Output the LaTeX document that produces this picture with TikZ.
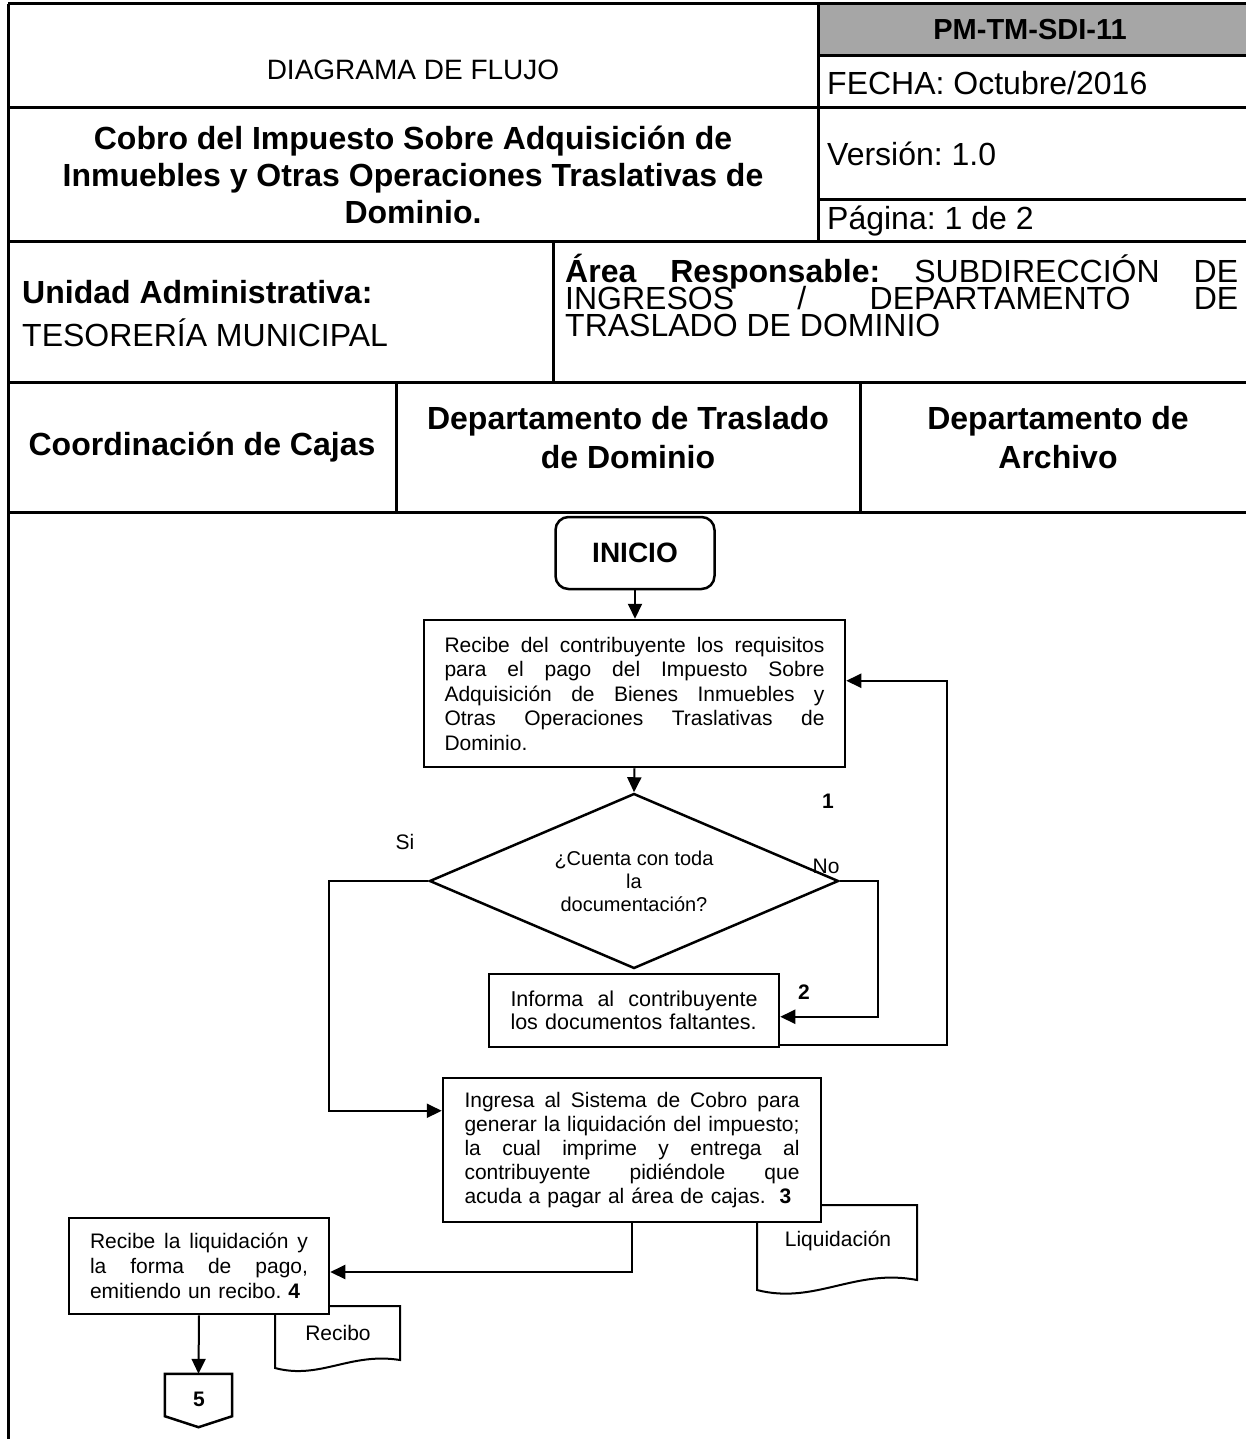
\documentclass[tikz,border=0pt]{standalone}
\usepackage{fontspec}
\setmainfont{Liberation Sans}
\usetikzlibrary{arrows.meta,shapes.geometric,calc}
\definecolor{hdrgray}{HTML}{A6A6A6}
\newcommand{\spl}[2]{\leavevmode\hbox to #1{\spaceskip=.25em plus 1fil\xspaceskip=.25em plus 1fil\relax #2}}
\frenchspacing
\begin{document}
\begin{tikzpicture}[x=1pt,y=-1pt,
  tline/.style={line width=3pt},
  hdr/.style={font=\fontsize{32}{37}\selectfont, inner sep=0},
  hdrb/.style={font=\fontsize{32}{37}\selectfont\bfseries, inner sep=0},
  box/.style={draw, line width=2.5pt, fill=white, inner sep=0, align=left},
  conn/.style={line width=2pt, -{Triangle[length=15pt,width=14pt]}},
  lbl/.style={font=\fontsize{21}{24}\selectfont, inner sep=0},
  lblb/.style={font=\fontsize{21}{24}\selectfont\bfseries, inner sep=0},
  docshape/.style={draw, line width=2pt, fill=white}
]
\clip (0,0) rectangle (1246,1439);
\useasboundingbox (0,0) rectangle (1246,1439);
% ---------- header table ----------
\fill[hdrgray] (818,4) rectangle (1260,56);
\draw[tline] (8,4) -- (1260,4);
\draw[tline] (8,4) -- (8,1450);
\draw[tline] (818,4) -- (818,242);
\draw[tline] (818,56) -- (1260,56);
\draw[tline] (8,108) -- (1260,108);
\draw[tline] (818,200) -- (1260,200);
\draw[tline] (8,242) -- (1260,242);
\draw[tline] (553,242) -- (553,382);
\draw[tline] (8,382) -- (1260,382);
\draw[tline] (396,382) -- (396,512);
\draw[tline] (860,382) -- (860,512);
\draw[tline] (8,512) -- (1260,512);

\node[inner sep=0, font=\fontsize{29}{34}\selectfont\bfseries] (code) at (1030,30) {PM-TM-SDI-11};
\node[hdr, anchor=west] (fecha) at (827,83) {FECHA: Octubre/2016};
\node[inner sep=0, font=\fontsize{28}{34}\selectfont] (diag) at (413,70) {DIAGRAMA DE FLUJO};
\node[hdrb, align=center] (title) at (413,175) {Cobro del Impuesto Sobre Adquisición de\\Inmuebles y Otras Operaciones Traslativas de\\Dominio.};
\node[hdr, anchor=west] (ver) at (827,154) {Versión: 1.0};
\node[hdr, anchor=west] (pag) at (827,221) {Página: 1 de 2};
\node[hdrb, anchor=west] (unidad) at (22,292) {Unidad Administrativa:};
\node[hdr, anchor=west] (teso) at (22,333) {TESORERÍA MUNICIPAL};
\node[hdr, anchor=base west] (area1) at (565,282) {\spl{673pt}{\textbf{Área Responsable:} SUBDIRECCIÓN DE}};
\node[hdr, anchor=base west] (area2) at (565,309) {\spl{673pt}{INGRESOS / DEPARTAMENTO DE}};
\node[hdr, anchor=base west] (area3) at (565,336) {TRASLADO DE DOMINIO};
\node[hdrb] (cajas) at (202,447) {Coordinación de Cajas};
\node[hdrb, align=center, font=\fontsize{32}{39}\selectfont\bfseries] (dtd) at (628,438) {Departamento de Traslado\\de Dominio};
\node[hdrb, align=center, font=\fontsize{32}{39}\selectfont\bfseries] (darch) at (1058,438) {Departamento de\\Archivo};

% ---------- documents (behind boxes) ----------
\draw[docshape] (757,1205) -- (917,1205) -- (917,1280)
  .. controls (855,1268) and (815,1305) .. (757,1290) -- cycle;
\node[lbl] (liq) at (838,1241) {Liquidación};
\draw[docshape] (275,1306) -- (400,1306) -- (400,1360)
  .. controls (350,1352) and (320,1380) .. (275,1368) -- cycle;
\node[lbl] (rec) at (338,1333) {Recibo};

% ---------- flow nodes ----------
\node[draw, line width=2.5pt, rounded corners=13pt, minimum width=159pt, minimum height=72pt,
  font=\fontsize{28}{30}\selectfont\bfseries] (inicio) at (635,553) {INICIO};

\node[box, minimum width=421pt, minimum height=147pt, text width=380pt,
  font=\fontsize{21}{24.5}\selectfont] (b1) at (634.5,693.5)
  {\spl{380pt}{Recibe del contribuyente los requisitos}\\
   \spl{380pt}{para el pago del Impuesto Sobre}\\
   \spl{380pt}{Adquisición de Bienes Inmuebles y}\\
   \spl{380pt}{Otras Operaciones Traslativas de}\\
   Dominio.};

\node[diamond, draw, line width=2.5pt, fill=white, aspect=2.34, inner sep=0,
  minimum width=409pt, minimum height=175pt, align=center,
  font=\fontsize{20}{23}\selectfont] (d) at (634,881)
  {¿Cuenta con toda\\la\\documentación?};

\node[box, minimum width=290pt, minimum height=73pt, text width=247pt,
  font=\fontsize{21.5}{23.5}\selectfont] (b2) at (634,1010.5)
  {\spl{247pt}{Informa al contribuyente}\\
   los documentos faltantes.};

\node[box, minimum width=378pt, minimum height=144pt, text width=335pt,
  font=\fontsize{21}{24}\selectfont] (b3) at (632,1150)
  {\spl{335pt}{Ingresa al Sistema de Cobro para}\\
   \spl{335pt}{generar la liquidación del impuesto;}\\
   \spl{335pt}{la cual imprime y entrega al}\\
   \spl{335pt}{contribuyente pidiéndole que}\\
   acuda a pagar al área de cajas.\ \ \textbf{3}};

\node[box, minimum width=260pt, minimum height=96pt, text width=218pt,
  font=\fontsize{21}{25}\selectfont] (b4) at (199,1266)
  {\spl{218pt}{Recibe la liquidación y}\\
   \spl{218pt}{la forma de pago,}\\
   emitiendo un recibo. \textbf{4}};

\node[minimum width=67pt, minimum height=53pt, inner sep=0] (c5) at (198.5,1400.5) {};
\draw[line width=2.5pt, fill=white] (c5.north west) -- (c5.north east) -- ($(c5.south east)+(0,-11)$)
  -- (c5.south) -- ($(c5.south west)+(0,-11)$) -- cycle;
\node[lblb] (c5t) at (199,1399) {5};

% ---------- labels ----------
\node[lblb] (n1) at (828,801) {1};
\node[lblb] (n2) at (804,992) {2};
\node[lbl] (si) at (405,842) {Si};
\node[lbl] (no) at (826,866) {No};

% ---------- connectors ----------
\draw[conn] (inicio.south) -- (inicio.south |- b1.north);
\draw[conn] (b1.south) -- (d.north);
\draw[conn] (d.west) -- ++(-99,0) |- ($(b3.north west)+(0,34)$);
\draw[conn] (d.east) -- ++(38,0) |- ($(b2.north east)+(0,44)$);
\draw[conn] ($(b2.south east)+(0,-3)$) -- ++(167,0) |- ($(b1.north east)+(0,62)$);
\draw[conn] (b3.south) |- ($(b4.east)+(0,6)$);
\draw[conn] (b4.south) -- (c5.north);
\end{tikzpicture}
\end{document}
